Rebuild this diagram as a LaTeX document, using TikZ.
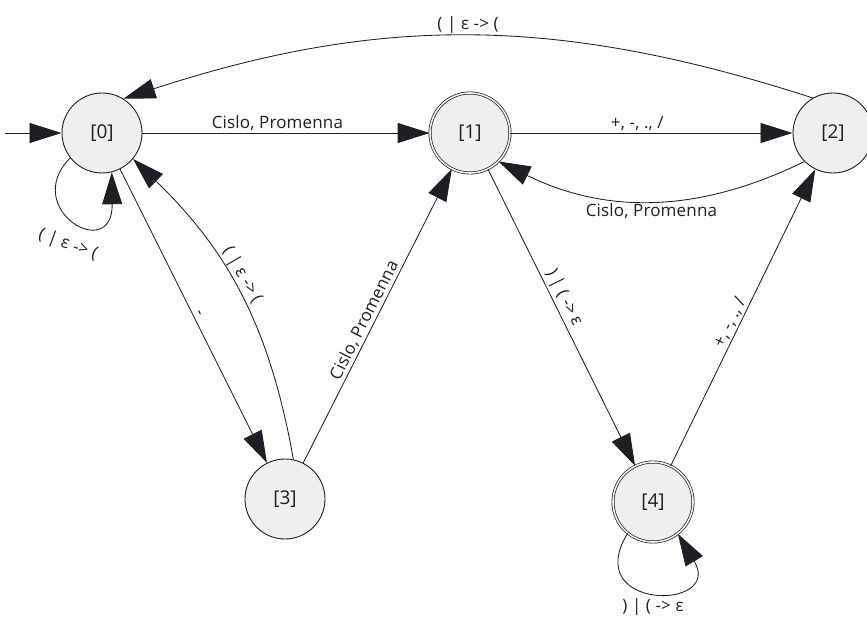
\documentclass[tikz,border=0pt]{standalone}
\usepackage{fontspec}
\setmainfont{Open Sans}
\newfontfamily\labelfont[LetterSpace=1]{Open Sans}
\usetikzlibrary{arrows.meta}
\definecolor{statefill}{RGB}{240,239,238}
\definecolor{ink}{RGB}{30,30,36}
\begin{document}
\begin{tikzpicture}[x=1pt,y=1pt,
  state/.style={circle,draw=ink,line width=0.9pt,fill=statefill,minimum size=80pt,inner sep=0pt,font=\fontsize{19}{21}\selectfont,text=ink},
  accept/.style={state,double=statefill,double distance=1.6pt,line width=0.7pt},
  trans/.style={draw=ink,line width=0.85pt,-{Triangle[length=32pt,width=20pt]}},
  lbl/.style={font=\labelfont\fontsize{17}{19}\selectfont,text=ink,inner sep=2pt}]
\useasboundingbox (0,0) rectangle (867,619);

% states
\node[state]  (q0) at (102,486) {[0]};
\node[accept] (q1) at (470,486) {[1]};
\node[state]  (q2) at (833,486) {[2]};
\node[state]  (q3) at (285,120) {[3]};
\node[accept] (q4) at (653,117) {[4]};

% initial arrow
\coordinate (start) at (5,486);
\draw[trans] (start) -- (q0);

% transitions
\draw[trans] (q0) -- node[lbl,above,pos=0.47] {Cislo, Promenna} (q1);
\draw[trans] (q1) -- node[lbl,above,pos=0.45] {+, -, ., /} (q2);
\draw[trans] (q2.225) to[bend left=26] node[lbl,below] {Cislo, Promenna} (q1.-45);
\draw[trans] (q2.120) to[bend right=18] node[lbl,above] {( | ε -> (} (q0.58);
\draw[trans] (q0) -- node[lbl,above,sloped] {-} (q3);
\draw[trans] (q3.78) to[bend right=18] node[lbl,above,sloped,pos=0.55] {( | ε -> (} (q0.-40);
\draw[trans] (q3) -- node[lbl,above,sloped,pos=0.47] {Cislo, Promenna} (q1);
\draw[trans] (q1) -- node[lbl,above,sloped,pos=0.45] {) | ( -> ε} (q4);
\draw[trans] (q4) -- node[lbl,above,sloped,pos=0.47] {+, -, ., /} (q2);

% self loops
\draw[trans] (q0.218) .. controls (20,410) and (113,355) .. (q0.284);
\node[lbl,rotate=-20] (l0) at (68,374) {( | ε -> (};
\draw[trans] (q4.231) .. controls (580,8) and (724,8) .. (q4.-52);
\node[lbl] (l4) at (653,12) {) | ( -> ε};
\end{tikzpicture}
\end{document}
